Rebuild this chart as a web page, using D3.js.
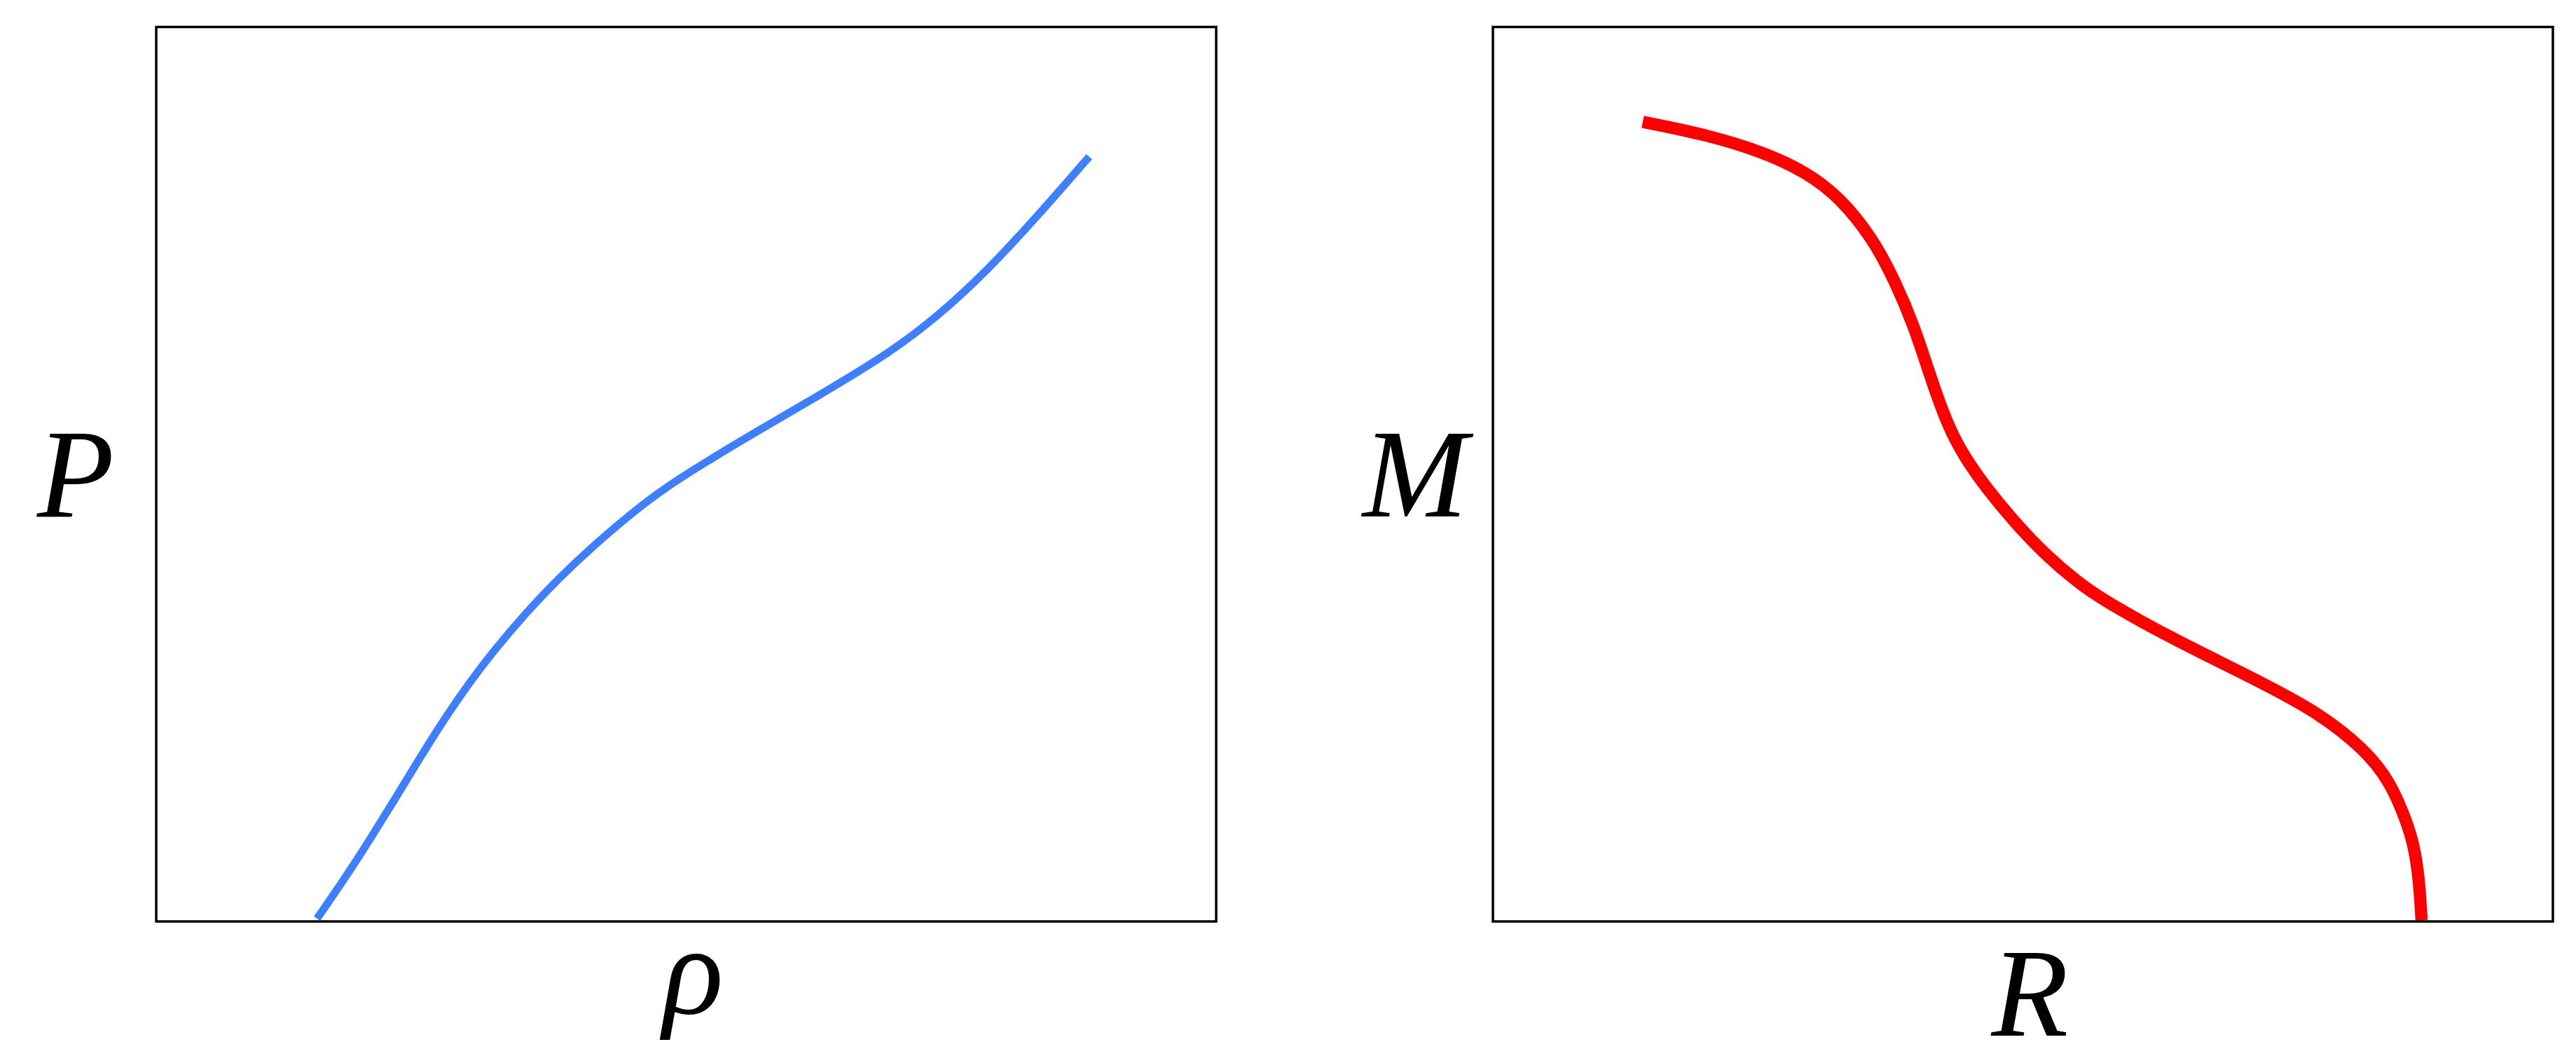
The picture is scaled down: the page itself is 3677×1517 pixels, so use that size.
<!DOCTYPE html>
<head>
  <meta charset="UTF-8">
  <style>
    body { margin: 0; background: #fff; }
    svg { display: block; }
    .lbl { font-family: "Liberation Serif", "DejaVu Serif", serif; font-style: italic; font-size: 180px; fill: #000; }
  </style>
</head>
<body>
<script src="https://d3js.org/d3.v7.min.js"></script>
<div id="chart"></div>
<script>

  // P(rho) curve, arbitrary units 0..10
  var rhoVals = [1.517, 1.781, 2.013, 2.246, 2.478, 2.711, 2.943, 3.176, 3.486, 3.796, 4.106, 4.493, 4.803, 5.191, 5.656, 6.276, 6.896, 7.361, 7.825, 8.290, 8.802];
  var pVals   = [0.032, 0.484, 0.910, 1.356, 1.810, 2.251, 2.651, 3.015, 3.448, 3.834, 4.182, 4.572, 4.851, 5.141, 5.471, 5.897, 6.338, 6.752, 7.258, 7.853, 8.550];

  // M(R) curve, arbitrary units 0..10
  var rVals = [1.414, 2.034, 2.577, 2.964, 3.274, 3.584, 3.794, 3.972, 4.127, 4.235, 4.359, 4.514, 4.623, 4.902, 5.211, 5.521, 5.754, 6.374, 7.071, 7.769, 8.234, 8.467, 8.621, 8.691, 8.738, 8.761];
  var mVals = [8.939, 8.792, 8.590, 8.370, 8.094, 7.635, 7.157, 6.662, 6.092, 5.725, 5.376, 5.082, 4.899, 4.486, 4.100, 3.788, 3.595, 3.183, 2.778, 2.356, 1.915, 1.557, 1.116, 0.840, 0.473, 0.014];

  var width = 3677,
      height = 1517;

  var svg = d3.select("#chart")
    .append("svg")
      .attr("width", width)
      .attr("height", height);

  svg.append("rect").attr("width", width).attr("height", height).attr("fill", "#fff");

  var top_ = 38.5, bottom_ = 1315;

  var panels = [
    { left: 223,  right: 1736, xs: rhoVals, ys: pVals, color: "#3e7fff", sw: 11,   xlab: "ρ", ylab: "P", xlabY: 1446, ylabGap: 60 },
    { left: 2131, right: 3644, xs: rVals,   ys: mVals, color: "#ff0000", sw: 17.5, xlab: "R", ylab: "M", xlabY: 1478, ylabGap: 36 }
  ];

  panels.forEach(function(p) {
    var x = d3.scaleLinear().domain([0, 10]).range([p.left, p.right]);
    var y = d3.scaleLinear().domain([0, 10]).range([bottom_, top_]);

    var pts = p.xs.map(function(v, i) { return [v, p.ys[i]]; });

    var line = d3.line()
      .x(function(d) { return x(d[0]); })
      .y(function(d) { return y(d[1]); })
      .curve(d3.curveBasis);

    svg.append("path")
      .datum(pts)
      .attr("d", line)
      .attr("fill", "none")
      .attr("stroke", p.color)
      .attr("stroke-width", p.sw)
      .attr("stroke-linecap", "butt")
      .attr("stroke-linejoin", "round");

    // frame
    svg.append("rect")
      .attr("x", x(0))
      .attr("y", y(10))
      .attr("width", x(10) - x(0))
      .attr("height", y(0) - y(10))
      .attr("fill", "none")
      .attr("stroke", "#000")
      .attr("stroke-width", 3.5);

    svg.append("text")
      .attr("class", "lbl")
      .attr("x", (x(0) + x(10)) / 2 + 10)
      .attr("y", p.xlabY)
      .attr("text-anchor", "middle")
      .text(p.xlab);

    svg.append("text")
      .attr("class", "lbl")
      .attr("x", x(0) - p.ylabGap)
      .attr("y", 737)
      .attr("text-anchor", "end")
      .text(p.ylab);
  });

</script>
</body>
</html>
